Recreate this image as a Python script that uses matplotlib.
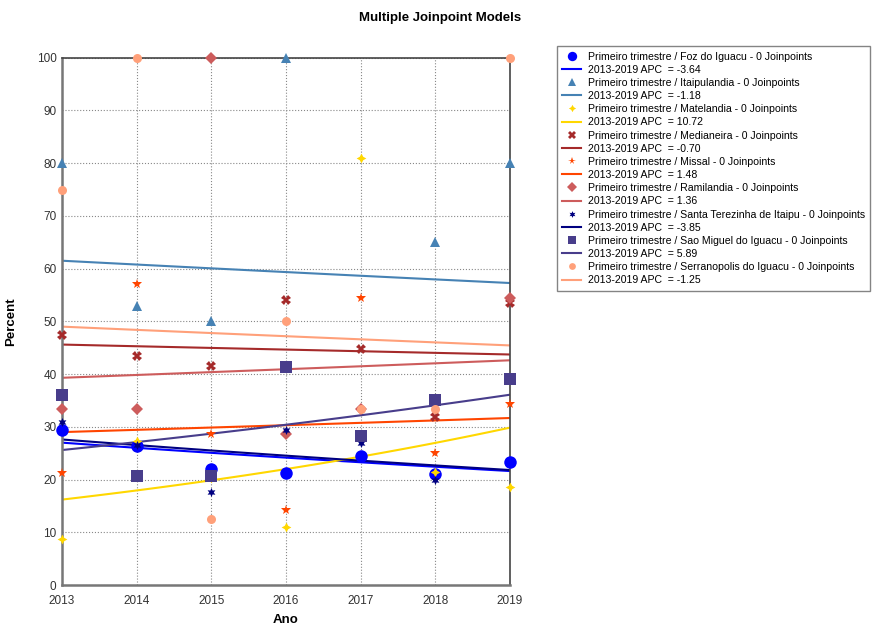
import numpy as np
import matplotlib.pyplot as plt

# ---------------- data ----------------
years = [2013, 2014, 2015, 2016, 2017, 2018, 2019]
nan = np.nan

municipios = ["Foz do Iguacu", "Itaipulandia", "Matelandia", "Medianeira", "Missal",
              "Ramilandia", "Santa Terezinha de Itaipu", "Sao Miguel do Iguacu",
              "Serranopolis do Iguacu"]

foz = [29.4, 26.4, 22.0, 21.3, 24.5, 21.1, 23.3]
itaipulandia = [80.0, 53.0, 50.0, 100.0, nan, 65.0, 80.0]
matelandia = [8.8, 27.3, 20.3, 11.0, 81.0, 21.4, 18.5]
medianeira = [47.5, 43.5, 41.6, 54.1, 44.8, 31.8, 53.5]
missal = [21.3, 57.1, 28.6, 14.3, 54.5, 25.0, 34.4]
ramilandia = [33.3, 33.3, 100.0, 28.6, 33.3, nan, 54.5]
santa_terezinha = [31.0, 26.5, 17.6, 29.4, 26.9, 20.0, nan]
sao_miguel = [36.0, 20.7, 20.7, 41.4, 28.3, 35.0, 39.1]
serranopolis = [75.0, 100.0, 12.5, 50.0, 33.3, 33.3, 100.0]

# annual percent change of each fitted model and the fitted value in 2013
apc = [-3.64, -1.18, 10.72, -0.70, 1.48, 1.36, -3.85, 5.89, -1.25]
fit_2013 = [27.0, 61.5, 16.2, 45.6, 29.0, 39.3, 27.6, 25.6, 49.0]

series = [foz, itaipulandia, matelandia, medianeira, missal,
          ramilandia, santa_terezinha, sao_miguel, serranopolis]

colors = ["#0000FF", "#4682B4", "#FFD700", "#A52A2A", "#FF4500",
          "#CD5C5C", "#000080", "#483D8B", "#FFA07A"]
markers = ["o", "^", (4, 1, 0), "X", "*", "D", (6, 1, 0), "s", "o"]
msizes = [9, 7.5, 7, 7, 7.5, 6.5, 6.5, 8.5, 6.5]

# ---------------- figure ----------------
plt.rcParams['font.family'] = ['Liberation Sans', 'DejaVu Sans']
fig = plt.figure(figsize=(8.8, 6.3), dpi=100)
ax = fig.add_axes([0.0705, 0.0714, 0.509, 0.837])

t = np.linspace(years[0], years[-1], 100)
handles = []
labels = []
for i, name in enumerate(municipios):
    pts, = ax.plot(years, series[i], linestyle="none", marker=markers[i],
                   markersize=msizes[i], color=colors[i], markeredgewidth=0,
                   clip_on=False, zorder=3)
    curve = fit_2013[i] * (1 + apc[i] / 100.0) ** (t - years[0])
    ln, = ax.plot(t, curve, color=colors[i], linewidth=1.5, zorder=2)
    handles += [pts, ln]
    labels += ["Primeiro trimestre / %s - 0 Joinpoints" % name,
               "2013-2019 APC  = %.2f" % apc[i]]

ax.set_xlim(2013, 2019)
ax.set_ylim(0, 100)
ax.set_xticks(years)
ax.set_yticks(range(0, 101, 10))
ax.grid(True, linestyle=":", color="#888888", linewidth=0.8)
ax.tick_params(length=0, labelsize=8.5, colors="#333333")
ax.tick_params(axis="x", pad=7)
ax.tick_params(axis="y", pad=4)
for side in ["left", "bottom"]:
    ax.spines[side].set_color("#777777")
    ax.spines[side].set_linewidth(1.8)
for side in ["top", "right"]:
    ax.spines[side].set_color("#444444")
    ax.spines[side].set_linewidth(1.2)

ax.set_xlabel("Ano", fontsize=9.5, fontweight="bold", labelpad=5)
ax.set_ylabel("Percent", fontsize=9.5, fontweight="bold", labelpad=14)
fig.text(0.5, 0.972, "Multiple Joinpoint Models", ha="center", va="center",
         fontsize=9.5, fontweight="bold")

leg = fig.legend(handles, labels, loc="upper left", bbox_to_anchor=(0.627, 0.935),
                 fontsize=7.6, frameon=True, fancybox=False, edgecolor="#666666",
                 labelspacing=0.3, handlelength=1.8, handletextpad=0.6,
                 borderpad=0.5, markerscale=0.75)
leg.get_frame().set_linewidth(1.0)

fig.savefig("out.png", dpi=100)
